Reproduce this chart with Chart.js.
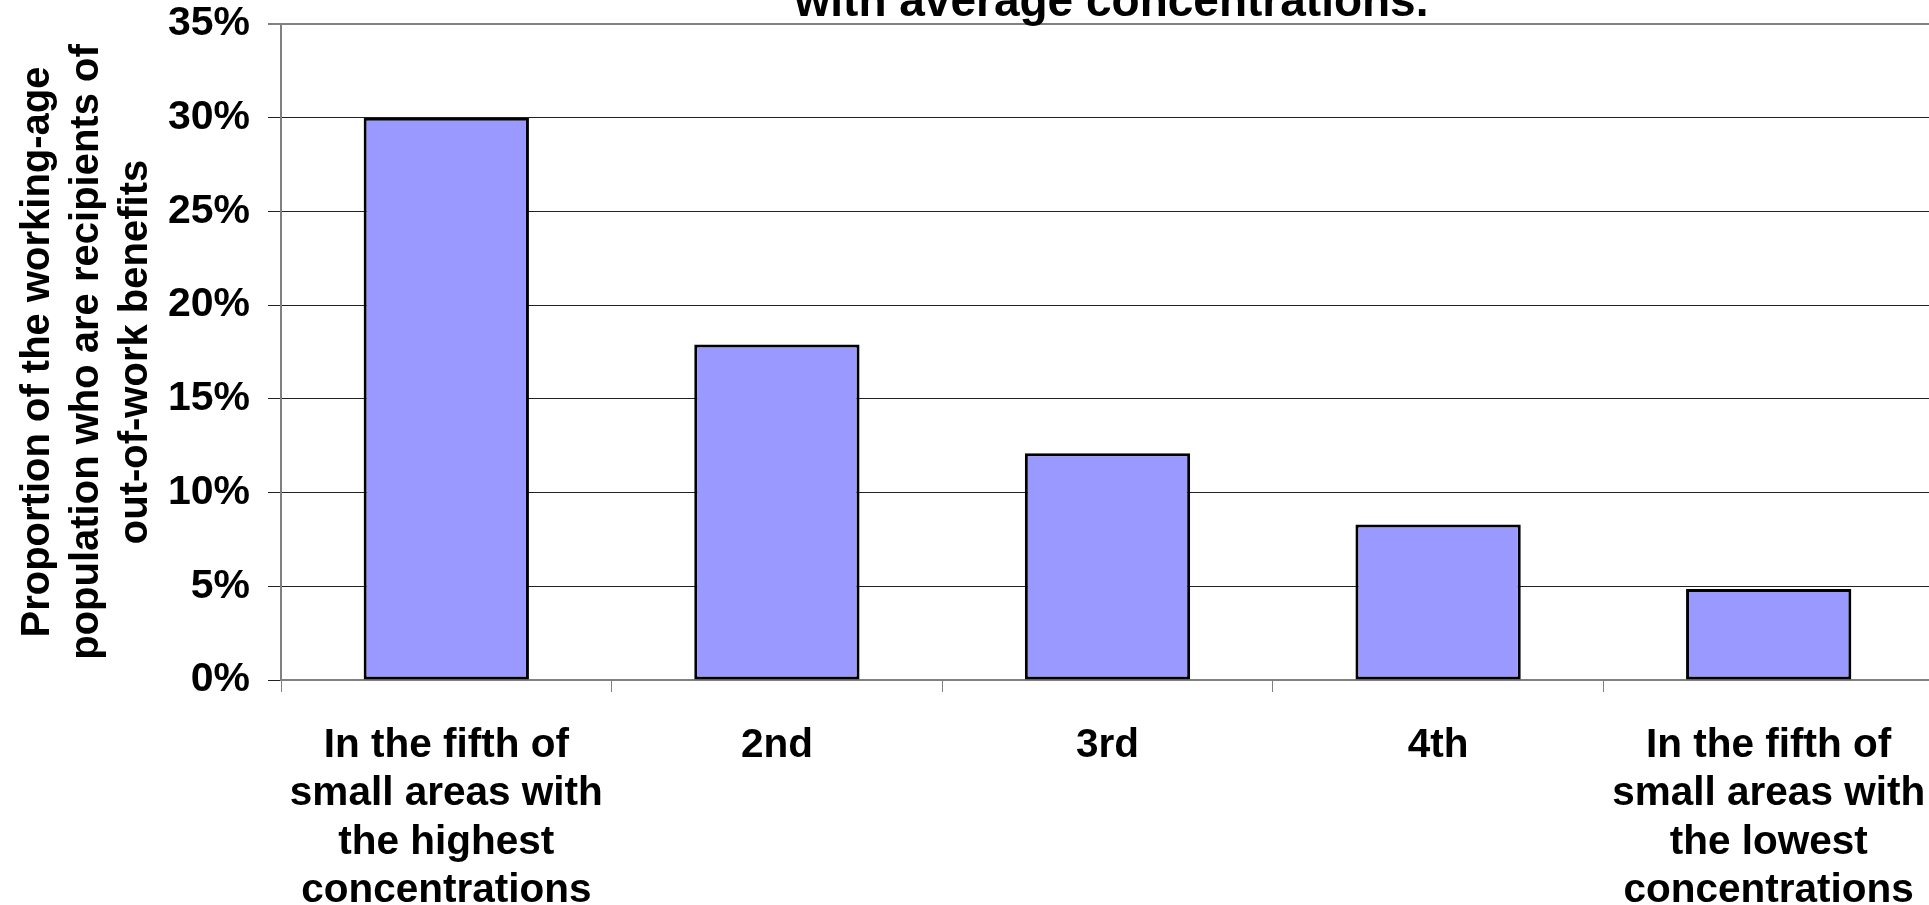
<!DOCTYPE html>
<html>
<head>
<meta charset="utf-8">
<script src="https://cdn.jsdelivr.net/npm/chart.js@4.4.0/dist/chart.umd.min.js"></script>
<style>
  html, body { margin: 0; padding: 0; background: #fff; overflow: hidden; }
  #wrap { position: absolute; left: 0; top: 0; width: 1940px; height: 905px; }
</style>
</head>
<body>
<div id="wrap"><canvas id="chart"></canvas></div>
<script>
const categories = [
  ['In the fifth of', 'small areas with', 'the highest', 'concentrations'],
  '2nd',
  '3rd',
  '4th',
  ['In the fifth of', 'small areas with', 'the lowest', 'concentrations']
];
const shares = [30.0, 17.9, 12.1, 8.3, 4.85];
const yTitle = ['Proportion of the working-age', 'population who are recipients of', 'out-of-work benefits'];
const chartTitle = 'with average concentrations.';

const FONT = 'Arial, "Liberation Sans", sans-serif';

// the title line is cut by the top edge, so draw it ourselves
const titleLine = {
  id: 'titleLine',
  afterDraw(chart) {
    const { ctx, chartArea } = chart;
    ctx.save();
    ctx.font = 'bold 46px ' + FONT;
    ctx.fillStyle = '#000';
    ctx.textAlign = 'center';
    ctx.textBaseline = 'alphabetic';
    ctx.fillText(chartTitle, (chartArea.left + chartArea.right) / 2 + 4, 16);
    ctx.restore();
  }
};

new Chart(document.getElementById('chart'), {
  type: 'bar',
  data: {
    labels: categories,
    datasets: [{
      data: shares,
      backgroundColor: '#9999ff',
      borderColor: '#000',
      borderWidth: 3,
      borderSkipped: false,
      barPercentage: 0.5,
      categoryPercentage: 1.0
    }]
  },
  options: {
    responsive: true,
    maintainAspectRatio: false,
    animation: false,
    layout: { padding: { top: 24, right: 6, left: 0, bottom: 0 } },
    plugins: {
      legend: { display: false },
      tooltip: { enabled: false }
    },
    scales: {
      x: {
        grid: {
          offset: true,
          drawOnChartArea: false,
          drawTicks: true,
          tickLength: 12,
          color: '#808080',
          lineWidth: 1
        },
        border: { color: '#808080', width: 2 },
        ticks: {
          color: '#000',
          maxRotation: 0,
          autoSkip: false,
          padding: 30,
          font: { family: FONT, size: 40.5, weight: 'bold', lineHeight: 1.19 }
        },
        afterFit(scale) {
          scale.height = 225;
          scale.paddingLeft = 0;
          scale.paddingRight = 0;
        }
      },
      y: {
        min: 0,
        max: 35,
        ticks: {
          stepSize: 5,
          color: '#000',
          padding: 18,
          font: { family: FONT, size: 41, weight: 'bold' },
          callback: v => v + '%'
        },
        grid: {
          tickLength: 13,
          color: ctx => ctx.tick && ctx.tick.value === 35 ? '#808080' : '#222',
          lineWidth: ctx => ctx.tick && ctx.tick.value === 35 ? 2 : 1
        },
        border: { color: '#808080', width: 2 },
        title: {
          display: true,
          text: yTitle,
          color: '#000',
          padding: { top: 14, bottom: 0 },
          font: { family: FONT, size: 40, weight: 'bold', lineHeight: 1.22 }
        },
        afterFit(scale) {
          scale.width = 281;
          scale.paddingTop = 0;
          scale.paddingBottom = 0;
        }
      }
    }
  },
  plugins: [titleLine]
});
</script>
</body>
</html>
